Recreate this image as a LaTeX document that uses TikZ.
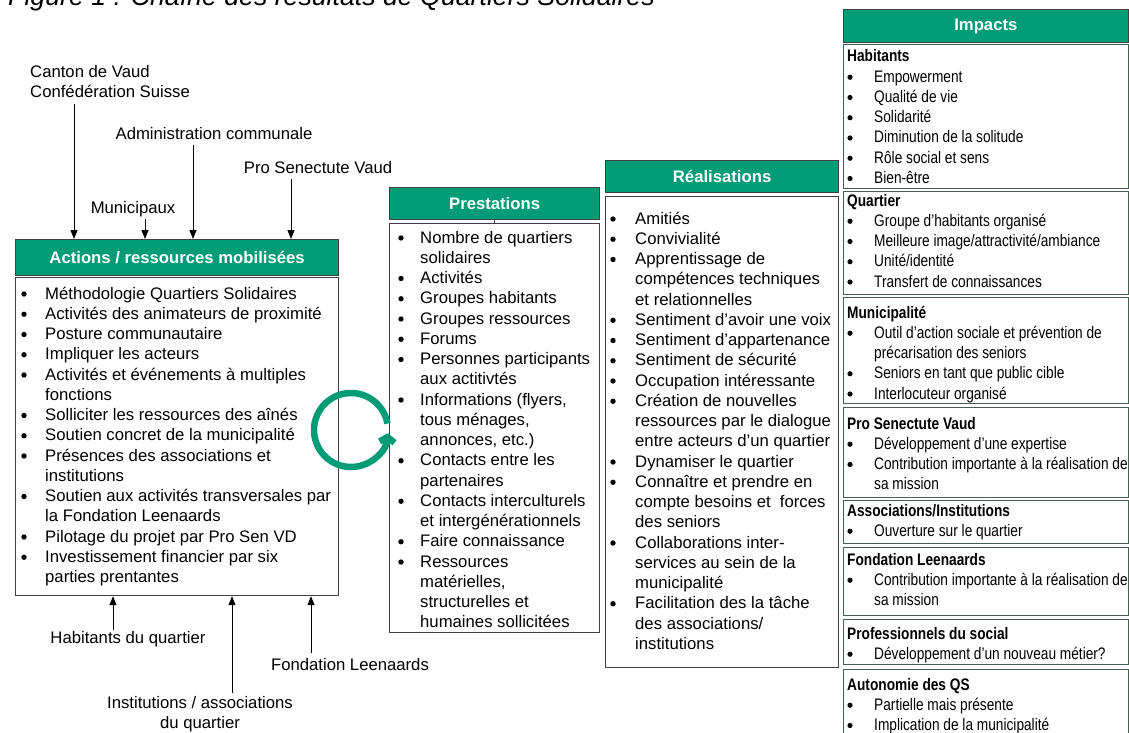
\documentclass[tikz,border=0pt]{standalone}
\usepackage{fontspec}
\setmainfont{Liberation Sans}
\newfontfamily\narrowfont[FakeStretch=0.82]{Liberation Sans}
\usetikzlibrary{arrows.meta,calc}
\definecolor{qsgreen}{RGB}{0,155,119}
\definecolor{boxgray}{RGB}{64,64,64}
\definecolor{impborder}{RGB}{70,95,80}
\newcommand{\qsbody}{\fontsize{16.7}{20.25}\selectfont}
\begin{document}
\begin{tikzpicture}[x=1pt,y=-1pt,
  hdr/.style={draw=boxgray, fill=qsgreen, line width=1.2pt, text=white, font=\qsbody\bfseries, inner sep=0pt, anchor=north west},
  bodybox/.style={draw=boxgray, line width=1.2pt, inner sep=0pt, anchor=north west},
  impbox/.style={draw=impborder, line width=1.2pt, inner sep=0pt, anchor=north west},
  lst/.style={anchor=base west, inner sep=0pt, font=\qsbody},
  ilst/.style={anchor=base west, inner sep=0pt, font=\narrowfont\qsbody},
  lbl/.style={anchor=base, inner sep=0pt, font=\qsbody, text height=12pt, text depth=5pt},
  lblm/.style={anchor=base, inner sep=0pt, font=\qsbody},
  arr/.style={-{Triangle[length=9pt,width=7pt]}, line width=0.9pt},
  dot/.style={fill=black},
  ring/.style={draw=qsgreen, line width=6.5pt, -{Straight Barb[length=5pt,width=15pt]}}
]
\useasboundingbox (0,0) rectangle (1129,733);

% title (cut by the page edge)
\node[anchor=base west, inner sep=0pt, font=\fontsize{26.7}{30}\selectfont\itshape] (title) at (8,6) {Figure 1 : Chaîne des résultats de Quartiers Solidaires};

% ---------- Actions / ressources ----------
\node[hdr, minimum width=323pt, minimum height=36pt] (actHdr) at (15,239) {Actions / ressources mobilisées};
\node[bodybox, minimum width=323pt, minimum height=318pt] (actBody) at (15,277) {};
\node[lst] (actList) at (21,299) {\begin{tabular}[t]{@{}p{24pt}@{}l@{}}
 & Méthodologie Quartiers Solidaires\\
 & Activités des animateurs de proximité\\
 & Posture communautaire\\
 & Impliquer les acteurs\\
 & Activités et événements à multiples\\
 & fonctions\\
 & Solliciter les ressources des aînés\\
 & Soutien concret de la municipalité\\
 & Présences des associations et\\
 & institutions\\
 & Soutien aux activités transversales par\\
 & la Fondation Leenaards\\
 & Pilotage du projet par Pro Sen VD\\
 & Investissement financier par six\\
 & parties prentantes
\end{tabular}};
\foreach \i in {0,1,2,3,4,6,7,8,10,12,13}
  \fill[dot] ($(actList.base west)+(3,\i*20.25-5)$) circle (2.7);

% inputs from above
\node[lblm, anchor=base west] (canton) at (30,77.5) {\begin{tabular}[t]{@{}l@{}}Canton de Vaud\\Confédération Suisse\end{tabular}};
\node[lbl] (admin) at (214,139.5) {Administration communale};
\node[lbl] (munic) at (133,213.5) {Municipaux};
\node[lbl] (prosen) at (318,173.5) {Pro Senectute Vaud};
\coordinate (xCanton) at (74,0);
\coordinate (xMunic) at (145,0);
\coordinate (xAdmin) at (193,0);
\coordinate (xProsen) at (291,0);
\draw[arr] (canton.south -| xCanton) -- (actHdr.north -| xCanton);
\draw[arr] (admin.south -| xAdmin) -- (actHdr.north -| xAdmin);
\draw[arr] (munic.south -| xMunic) -- (actHdr.north -| xMunic);
\draw[arr] (prosen.south -| xProsen) -- (actHdr.north -| xProsen);

% inputs from below
\node[lbl] (habit) at (128,643.5) {Habitants du quartier};
\node[lblm] (instit) at (200,708.5) {\begin{tabular}[t]{@{}c@{}}Institutions / associations\\du quartier\end{tabular}};
\node[lbl] (fondl) at (350,670.5) {Fondation Leenaards};
\coordinate (xHabit) at (113,0);
\coordinate (xInstit) at (232,0);
\coordinate (xFondl) at (311,0);
\draw[arr] ($(habit.north -| xHabit)+(0,-1)$) -- (actBody.south -| xHabit);
\draw[arr] ($(instit.north -| xInstit)+(0,-1)$) -- (actBody.south -| xInstit);
\draw[arr] ($(fondl.north -| xFondl)+(0,-5)$) -- (actBody.south -| xFondl);

% ---------- Prestations ----------
\node[hdr, minimum width=210pt, minimum height=32pt] (preHdr) at (389,187) {Prestations};
\node[bodybox, minimum width=210pt, minimum height=409pt] (preBody) at (389,223) {};
\draw[boxgray, line width=1pt] (preHdr.south) -- (preBody.north);
\node[lst] (preList) at (398,243) {\begin{tabular}[t]{@{}p{22pt}@{}l@{}}
 & Nombre de quartiers\\
 & solidaires\\
 & Activités\\
 & Groupes habitants\\
 & Groupes ressources\\
 & Forums\\
 & Personnes participants\\
 & aux actitivtés\\
 & Informations (flyers,\\
 & tous ménages,\\
 & annonces, etc.)\\
 & Contacts entre les\\
 & partenaires\\
 & Contacts interculturels\\
 & et intergénérationnels\\
 & Faire connaissance\\
 & Ressources\\
 & matérielles,\\
 & structurelles et\\
 & humaines sollicitées
\end{tabular}};
\foreach \i in {0,2,3,4,5,6,8,11,13,15,16}
  \fill[dot] ($(preList.base west)+(3,\i*20.25-5)$) circle (2.7);

% ---------- Réalisations ----------
\node[hdr, minimum width=233pt, minimum height=32pt] (reaHdr) at (605,160) {Réalisations};
\node[bodybox, minimum width=233pt, minimum height=471pt] (reaBody) at (605,196) {};
\node[lst] (reaList) at (610,224) {\begin{tabular}[t]{@{}p{25pt}@{}l@{}}
 & Amitiés\\
 & Convivialité\\
 & Apprentissage de\\
 & compétences techniques\\
 & et relationnelles\\
 & Sentiment d’avoir une voix\\
 & Sentiment d’appartenance\\
 & Sentiment de sécurité\\
 & Occupation intéressante\\
 & Création de nouvelles\\
 & ressources par le dialogue\\
 & entre acteurs d’un quartier\\
 & Dynamiser le quartier\\
 & Connaître et prendre en\\
 & compte besoins et\ \ forces\\
 & des seniors\\
 & Collaborations inter-\\
 & services au sein de la\\
 & municipalité\\
 & Facilitation des la tâche\\
 & des associations/\\
 & institutions
\end{tabular}};
\foreach \i in {0,1,2,5,6,7,8,9,12,13,16,19}
  \fill[dot] ($(reaList.base west)+(3,\i*20.25-5)$) circle (2.7);

% ---------- Impacts ----------
\node[hdr, minimum width=284.5pt, minimum height=33pt] (impHdr) at (843,9) {Impacts};
\node[impbox, minimum width=284.5pt, minimum height=144pt] (impHab) at (843,44) {};
\node[impbox, minimum width=284.5pt, minimum height=103pt] (impQua) at (843,191) {};
\node[impbox, minimum width=284.5pt, minimum height=106pt] (impMun) at (843,297) {};
\node[impbox, minimum width=284.5pt, minimum height=90pt] (impPro) at (843,407) {};
\node[impbox, minimum width=284.5pt, minimum height=43pt] (impAss) at (843,500) {};
\node[impbox, minimum width=284.5pt, minimum height=68pt] (impFon) at (843,547) {};
\node[impbox, minimum width=284.5pt, minimum height=45pt] (impPrf) at (843,619) {};
\node[impbox, minimum width=284.5pt, minimum height=76pt] (impAut) at (843,669) {};

\node[ilst] (habList) at (847,62) {\begin{tabular}[t]{@{}p{27pt}@{}l@{}}
\multicolumn{2}{@{}l@{}}{\bfseries Habitants}\\
 & Empowerment\\
 & Qualité de vie\\
 & Solidarité\\
 & Diminution de la solitude\\
 & Rôle social et sens\\
 & Bien-être
\end{tabular}};
\node[ilst] (quaList) at (847,206) {\begin{tabular}[t]{@{}p{27pt}@{}l@{}}
\multicolumn{2}{@{}l@{}}{\bfseries Quartier}\\
 & Groupe d’habitants organisé\\
 & Meilleure image/attractivité/ambiance\\
 & Unité/identité\\
 & Transfert de connaissances
\end{tabular}};
\node[ilst] (munList) at (847,318) {\begin{tabular}[t]{@{}p{27pt}@{}l@{}}
\multicolumn{2}{@{}l@{}}{\bfseries Municipalité}\\
 & Outil d’action sociale et prévention de\\
 & précarisation des seniors\\
 & Seniors en tant que public cible\\
 & Interlocuteur organisé
\end{tabular}};
\node[ilst] (proList) at (847,429) {\begin{tabular}[t]{@{}p{27pt}@{}l@{}}
\multicolumn{2}{@{}l@{}}{\bfseries Pro Senectute Vaud}\\
 & Développement d’une expertise\\
 & Contribution importante à la réalisation de\\
 & sa mission
\end{tabular}};
\node[ilst] (assList) at (847,516) {\begin{tabular}[t]{@{}p{27pt}@{}l@{}}
\multicolumn{2}{@{}l@{}}{\bfseries Associations/Institutions}\\
 & Ouverture sur le quartier
\end{tabular}};
\node[ilst] (fonList) at (847,565) {\begin{tabular}[t]{@{}p{27pt}@{}l@{}}
\multicolumn{2}{@{}l@{}}{\bfseries Fondation Leenaards}\\
 & Contribution importante à la réalisation de\\
 & sa mission
\end{tabular}};
\node[ilst] (prfList) at (847,639) {\begin{tabular}[t]{@{}p{27pt}@{}l@{}}
\multicolumn{2}{@{}l@{}}{\bfseries Professionnels du social}\\
 & Développement d’un nouveau métier?
\end{tabular}};
\node[ilst] (autList) at (847,690) {\begin{tabular}[t]{@{}p{27pt}@{}l@{}}
\multicolumn{2}{@{}l@{}}{\bfseries Autonomie des QS}\\
 & Partielle mais présente\\
 & Implication de la municipalité
\end{tabular}};
\foreach \n/\lst in {habList/{1,2,3,4,5,6}, quaList/{1,2,3,4}, munList/{1,3,4}, proList/{1,2}, assList/{1}, fonList/{1}, prfList/{1}, autList/{1,2}}
  \foreach \i in \lst
    \fill[dot] ($(\n.base west)+(3,\i*20.25-5)$) circle (2.6);

% ---------- circular arrow ----------
\coordinate (ringc) at (351,430);
\draw[ring] ($(ringc)+(-10:37)$) arc (-10:-355:37);
\end{tikzpicture}
\end{document}
